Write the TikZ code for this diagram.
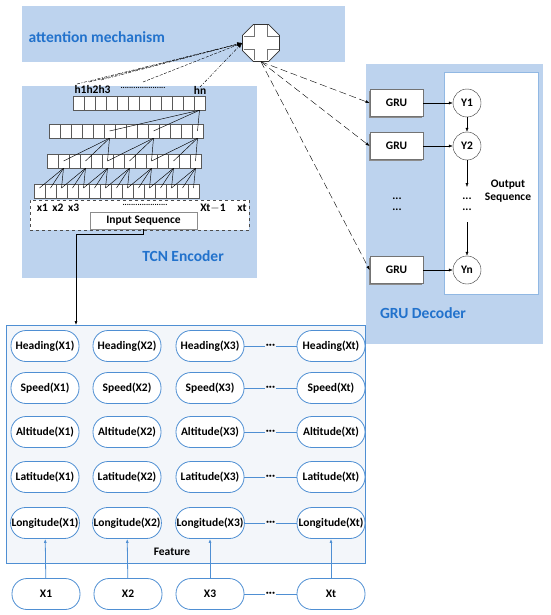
\documentclass[tikz,border=0pt]{standalone}
\usepackage{fontspec}
\setmainfont{Carlito}
\usetikzlibrary{positioning,shapes.geometric,arrows.meta,shadows}
\definecolor{panel}{HTML}{BDD3EE}
\definecolor{titleblue}{HTML}{2272CC}
\definecolor{featblue}{HTML}{4F8FD3}
\definecolor{featbg}{HTML}{F3F6FA}
\begin{document}
\begin{tikzpicture}[x=1pt,y=-1pt,font=\fontsize{11.5}{13}\selectfont\bfseries,
title/.style={text=titleblue,font=\fontsize{15.5}{18}\selectfont\bfseries},
cell/.style={draw=black!65,fill=white,minimum width=11pt,minimum height=14pt,inner sep=0pt,line width=0.45pt},
link/.style={line width=0.45pt},
feat/.style={draw=featblue,fill=white,rounded corners=15pt,minimum width=68pt,minimum height=31pt,inner sep=1pt,line width=0.8pt},
featline/.style={draw=featblue,line width=0.8pt},
gru/.style={draw=black!55,fill=white,minimum width=53pt,minimum height=27pt,line width=0.8pt,
  drop shadow={shadow xshift=-1.2pt,shadow yshift=-1.2pt,fill=black!45,opacity=1}},
ynode/.style={circle,draw=black!80,fill=white,minimum size=28pt,inner sep=0pt},
flow/.style={-{Latex[length=4pt,width=3pt]}},
att/.style={dash pattern=on 3pt off 1.5pt,-{Latex[length=5pt,width=3.5pt]}},
attdot/.style={dash pattern=on 3pt off 1.5pt on 1pt off 1.5pt,-{Latex[length=5pt,width=3.5pt]}},
attout/.style={dash pattern=on 7pt off 3.5pt,-{Latex[length=4pt,width=3pt]}}]
\useasboundingbox (0,0) rectangle (550,615);
% panels
\fill[panel] (22,6) rectangle (345,62);
\fill[panel] (22,86) rectangle (257,278);
\fill[panel] (366,64) rectangle (543,344);
\node[title,anchor=west] (atttitle) at (25,37) {attention mechanism};
\node[title] (tcntitle) at (183,256) {TCN Encoder};
\node[title] (grutitle) at (423,313) {GRU Decoder};
% attention node
\node[regular polygon,regular polygon sides=8,minimum size=40pt,draw=black!80,fill=white,line width=0.6pt] (oct) at (261,43) {};
\draw[black!55,line width=0.6pt,shift={(oct.center)}] (-6.5,-17.5) -- (-6.5,-6.5) -- (-17.5,-6.5) (-17.5,6.5) -- (-6.5,6.5) -- (-6.5,17.5)
  (6.5,17.5) -- (6.5,6.5) -- (17.5,6.5) (17.5,-6.5) -- (6.5,-6.5) -- (6.5,-17.5);
% TCN layers
\foreach \i in {0,...,11} \node[cell] (top\i) at ({78.5+11*\i},103) {};
\foreach \i in {0,...,13} \node[cell] (la\i) at ({54.5+11*\i},131) {};
\foreach \i in {0,...,13} \node[cell] (lb\i) at ({52.5+11*\i},161) {};
\foreach \i in {0,...,14} \node[cell] (lc\i) at ({39.5+11*\i},191) {};
\foreach \j in {5,9,13} \draw[link] (top11.south) -- (la\j.center);
\foreach \s in {5,9,13}{\foreach \d in {0,2,4}{\pgfmathtruncatemacro\t{\s-\d}\draw[link] (la\s.south) -- (lb\t.center);}}
\foreach \s in {1,3,...,13}{\foreach \d in {-1,0,1}{\pgfmathtruncatemacro\t{\s+\d}\draw[link] (lb\s.south) -- (lc\t.north |- 0,188);}}
\node (hlab) at (92.5,90) {h1h2h3};
\node (hdots) at (143,88) {\fontsize{8}{8}\selectfont.....................};
\node (hnlab) at (200,90) {hn};
% input sequence
\node[draw=black!70,dashed,fill=white,minimum width=219pt,minimum height=30pt] (inseq) at (139.5,215) {};
\node (xlab) at (58,208) {x1\, x2\, x3};
\node (xdots) at (145,205) {\fontsize{8}{8}\selectfont.....................};
\node (xtm) at (213,208) {Xt$-$1};
\node (xt) at (242,208) {xt};
\node[draw=black!45,fill=white,minimum width=107pt,minimum height=17pt,inner sep=0pt] (inbox) at (143.5,220.5) {Input Sequence};
% attention links
\coordinate (a1) at (77,84);
\coordinate (a2) at (89,82);
\coordinate (a3) at (101,80);
\coordinate (a4) at (143,82);
\coordinate (a5) at (200,87);
\draw[attdot] (a1) -- (oct.west);
\draw[att] (a2) -- (oct.west);
\draw[attdot] (a3) -- (oct.west);
\draw[att] (a4) -- (oct.west);
\draw[attdot] (a5) -- (oct.west);
% decoder
\draw[draw=panel!60!featblue,fill=white,line width=0.8pt] (444,72) rectangle (538,294);
\node[gru] (gru1) at (396.5,103) {GRU};
\node[gru] (gru2) at (396.5,146) {GRU};
\node[gru] (grun) at (396.5,270) {GRU};
\node[ynode] (y1) at (467,103) {Y1};
\node[ynode] (y2) at (467,146) {Y2};
\node[ynode] (yn) at (467,270) {Yn};
\node[align=center] (outlab) at (508,191) {Output\\Sequence};
\node[align=center,inner sep=0pt] (gdots) at (397,204) {...\\[-2pt]...};
\node[align=center,inner sep=0pt] (ydots) at (467,204) {...\\[-2pt]...};
\coordinate (yup) at (467,187);
\coordinate (ylow) at (467,222);
\draw[flow] (gru1) -- (y1);
\draw[flow] (gru2) -- (y2);
\draw[flow] (grun) -- (yn);
\draw[flow] (y1) -- (y2);
\draw[flow] (y2) -- (yup);
\draw[flow] (ylow) -- (yn);
\draw[attout] (oct.south) -- (gru1.west);
\draw[attout] (oct.south) -- (gru2.west);
\draw[attout] (oct.south) -- (grun.west);
% features
\draw[featline,fill=featbg] (6,325) rectangle (365,563);
\coordinate (fin) at (76,325);
\draw[flow,line width=0.6pt] (inbox.south) -- ++(0,5) -| (fin);
\foreach \f/\y in {Heading/346,Speed/388,Altitude/432,Latitude/477,Longitude/523}{
  \foreach \c/\x/\l in {1/45/X1,2/127/X2,3/210/X3,t/331/Xt} \node[feat] (\f\c) at (\x,\y) {\f(\l)};
  \draw[featline] (\f 3) -- node[fill=featbg,inner sep=1pt] {\textperiodcentered\textperiodcentered\textperiodcentered} (\f t);
}
\node (featlab) at (172,552) {Feature};
\foreach \c/\x/\l in {1/46/X1,2/128/X2,3/210/X3,t/331/Xt}{
  \node[feat] (x\c) at (\x,594) {\l};
  \draw[featline,-{Latex[length=4pt,width=3pt]}] (x\c) -- (Longitude\c);
}
\draw[featline] (x3) -- node[fill=white,inner sep=1pt] {\textperiodcentered\textperiodcentered\textperiodcentered} (xt);
\end{tikzpicture}
\end{document}
